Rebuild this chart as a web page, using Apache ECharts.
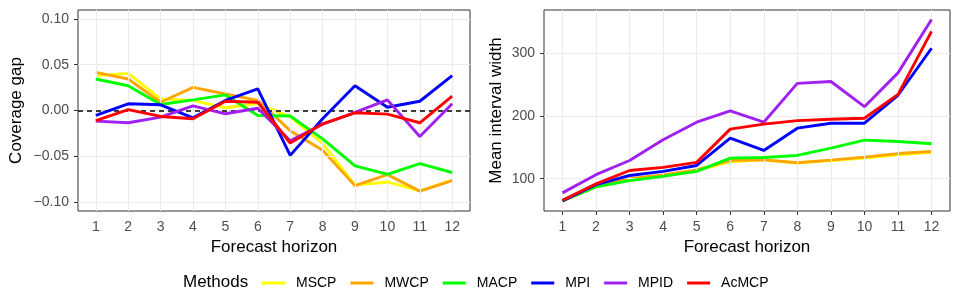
<!DOCTYPE html>
<html>
<head>
<meta charset="utf-8">
<script src="https://cdn.jsdelivr.net/npm/echarts@6/dist/echarts.min.js"></script>
<style>
html,body{margin:0;padding:0;background:#fff;}
#chart{width:960px;height:300px;}
</style>
</head>
<body>
<div id="chart"></div>
<script>
const horizons = [1,2,3,4,5,6,7,8,9,10,11,12];
const methods = ['MSCP','MWCP','MACP','MPI','MPID','AcMCP'];
const colors = ['#FFFF00','#FFA500','#00FF00','#0000FF','#A020F0','#FF0000'];

// Coverage gap (left panel)
const gapMSCP  = [0.038, 0.0405, 0.0127, 0.011, 0.003, 0.0076, -0.007, -0.036, -0.0815, -0.078, -0.0877, -0.076];
const gapMWCP  = [0.0417, 0.0344, 0.009, 0.0253, 0.018, 0.011, -0.022, -0.0435, -0.082, -0.070, -0.088, -0.0765];
const gapMACP  = [0.0344, 0.027, 0.0065, 0.0116, 0.017, -0.0054, -0.006, -0.031, -0.0605, -0.0696, -0.058, -0.0677];
const gapMPI   = [-0.0054, 0.0073, 0.0062, -0.008, 0.011, 0.0236, -0.049, -0.009, 0.027, 0.0036, 0.0101, 0.038];
const gapMPID  = [-0.0116, -0.0134, -0.0073, 0.005, -0.0036, 0.0025, -0.033, -0.015, -0.002, 0.0116, -0.0283, 0.0073];
const gapAcMCP = [-0.011, 0.001, -0.0065, -0.009, 0.0101, 0.009, -0.0355, -0.0145, -0.0025, -0.004, -0.0134, 0.0156];

// Mean interval width (right panel)
const widMSCP  = [64, 87, 99, 105, 113, 127, 130, 125, 129, 133, 138, 142];
const widMWCP  = [65, 88, 100, 106, 114, 129, 130, 125.4, 129.6, 134.4, 140, 143.3];
const widMACP  = [65, 86.8, 96.8, 103.7, 111.6, 132.8, 133.8, 137, 148.7, 161.4, 159.2, 155.6];
const widMPI   = [64.4, 90.5, 105, 111.6, 121, 164.6, 145, 180.5, 188.4, 188.4, 233, 308];
const widMPID  = [77.3, 106.3, 129, 162, 190, 208, 190, 252, 255, 214.8, 268.7, 354];
const widAcMCP = [65.6, 91.6, 113, 118, 126, 179, 187, 192.5, 194.7, 196.3, 234.4, 335];

const gapTicks = [-0.10, -0.05, 0.00, 0.05, 0.10];
const widTicks = [100, 200, 300];

const gapData = [gapMSCP, gapMWCP, gapMACP, gapMPI, gapMPID, gapAcMCP];
const widData = [widMSCP, widMWCP, widMACP, widMPI, widMPID, widAcMCP];

const FONT = '"Liberation Sans", Arial, sans-serif';
const labelCol = '#4D4D4D';

function xAxisCfg(gi) {
  return {
    type: 'value', gridIndex: gi, min: 0.45, max: 12.55,
    name: 'Forecast horizon', nameLocation: 'middle', nameGap: 27,
    nameTextStyle: {fontSize: 17, color: '#000', fontFamily: FONT},
    axisLine: {show: false},
    axisTick: {show: true, length: 4, lineStyle: {color: '#333'}, customValues: horizons},
    axisLabel: {customValues: horizons, color: labelCol, fontSize: 14, margin: 9, fontFamily: FONT},
    splitLine: {show: false}
  };
}
function yAxisCfg(gi, name, min, max, ticks, gap, fmt) {
  return {
    type: 'value', gridIndex: gi, min: min, max: max,
    name: name, nameLocation: 'middle', nameGap: gap,
    nameTextStyle: {fontSize: 17, color: '#000', fontFamily: FONT},
    axisLine: {show: false},
    axisTick: {show: true, length: 4, lineStyle: {color: '#333'}, customValues: ticks},
    axisLabel: {customValues: ticks, color: labelCol, fontSize: 14, margin: 9, fontFamily: FONT, formatter: fmt},
    splitLine: {show: false}
  };
}
function gridLines(gi, ticks) {
  return {
    name: 'grid' + gi, type: 'line', xAxisIndex: gi, yAxisIndex: gi, data: [], z: 1,
    markLine: {silent: true, symbol: ['none','none'], label: {show: false}, animation: false,
      lineStyle: {color: '#EBEBEB', type: 'solid', width: 1.1}, emphasis: {disabled: true},
      data: horizons.map(h => ({xAxis: h})).concat(ticks.map(t => ({yAxis: t})))}
  };
}

const series = [gridLines(0, gapTicks), gridLines(1, widTicks)];
methods.forEach((m, k) => {
  series.push({
    name: m, type: 'line', xAxisIndex: 0, yAxisIndex: 0,
    data: horizons.map((h, i) => [h, gapData[k][i]]),
    showSymbol: false, symbol: 'none', lineStyle: {width: 2.9, color: colors[k]},
    itemStyle: {color: colors[k]}, z: 3 + k
  });
});
series.push({
  name: 'zero', type: 'line', xAxisIndex: 0, yAxisIndex: 0, data: [], z: 20,
  markLine: {silent: true, symbol: ['none','none'], label: {show: false},
    lineStyle: {color: '#000', type: [5,4], width: 1.6}, emphasis: {disabled: true},
    data: [{yAxis: 0}]}
});
methods.forEach((m, k) => {
  series.push({
    name: m, type: 'line', xAxisIndex: 1, yAxisIndex: 1,
    data: horizons.map((h, i) => [h, widData[k][i]]),
    showSymbol: false, symbol: 'none', lineStyle: {width: 2.9, color: colors[k]},
    itemStyle: {color: colors[k]}, z: 3 + k
  });
});

const chart = echarts.init(document.getElementById('chart'), null, {renderer: 'canvas'});
chart.setOption({
  animation: false,
  backgroundColor: '#fff',
  textStyle: {fontFamily: FONT},
  grid: [
    {left: 78, top: 10, width: 392, height: 201, show: true, borderColor: '#333', borderWidth: 1, backgroundColor: 'transparent'},
    {left: 544, top: 10, width: 406, height: 201, show: true, borderColor: '#333', borderWidth: 1, backgroundColor: 'transparent'}
  ],
  xAxis: [xAxisCfg(0), xAxisCfg(1)],
  yAxis: [
    yAxisCfg(0, 'Coverage gap', -0.1097, 0.1097, gapTicks, 53, v => (v < 0 ? '\u2212' : '') + Math.abs(v).toFixed(2)),
    yAxisCfg(1, 'Mean interval width', 48.4, 369, widTicks, 39, v => String(v))
  ],
  legend: {
    data: methods, left: 262, top: 276, padding: 0, icon: 'rect', itemWidth: 23, itemHeight: 3, itemGap: 14,
    textStyle: {fontSize: 14, color: '#000', fontFamily: FONT, padding: [0,0,0,6]},
    selectedMode: false
  },
  graphic: [{
    type: 'text', left: 183, top: 274,
    style: {text: 'Methods', fontSize: 17, fill: '#000', fontFamily: FONT}
  }],
  series: series
});
</script>
</body>
</html>
